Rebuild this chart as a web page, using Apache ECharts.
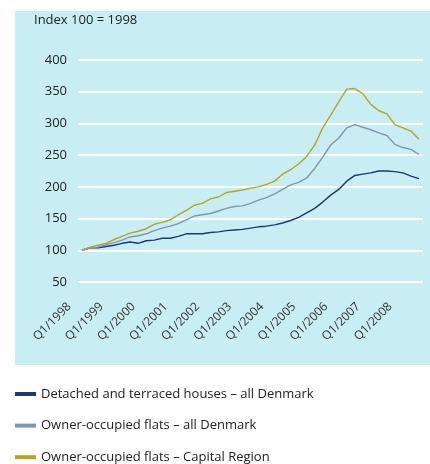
<!DOCTYPE html>
<html>
<head>
<meta charset="utf-8">
<script src="https://cdn.jsdelivr.net/npm/echarts@6/dist/echarts.min.js"></script>
<style>
  html, body { margin: 0; padding: 0; background: #fff; }
  #chart { width: 430px; height: 464px; }
</style>
</head>
<body>
<div id="chart"></div>
<script>
// quarters Q1/1998 .. Q3/2008
const quarters = []
for (let y = 1998; y <= 2008; y++) {
  for (let q = 1; q <= 4; q++) {
    if (y === 2008 && q > 3) break
    quarters.push('Q' + q + '/' + y)
  }
}

const seriesNames = [
  'Detached and terraced houses \u2013 all Denmark',
  'Owner-occupied flats \u2013 all Denmark',
  'Owner-occupied flats \u2013 Capital Region'
]

// index 100 = 1998
const houses = [100, 104, 104, 106, 108, 111, 113, 111, 115, 116, 119, 119, 122, 126, 126,
  126, 128, 129, 131, 132, 133, 135, 137, 138, 140, 143, 147, 152, 159, 166,
  176, 187, 196, 209, 218, 220, 222, 225, 225, 224, 222, 217, 213]
const flatsDk = [100, 104, 105, 109, 112, 116, 121, 123, 126, 131, 135, 138, 142, 148, 154,
  156, 158, 162, 166, 169, 170, 174, 179, 183, 189, 196, 203, 207, 214, 229,
  247, 266, 277, 293, 298, 294, 290, 285, 281, 267, 262, 259, 251]
const flatsCap = [100, 105, 108, 111, 117, 122, 127, 130, 134, 141, 144, 148, 156, 163, 171,
  174, 181, 184, 191, 193, 195, 198, 200, 204, 209, 220, 227, 236, 248, 266,
  293, 313, 334, 354, 355, 347, 330, 320, 315, 298, 293, 288, 275]

const colors = ['#1d3777', '#8196ab', '#b1a62a']
const font = 'Open Sans'

const myChart = echarts.init(document.getElementById('chart'))
myChart.setOption({
  animation: false,
  textStyle: { fontFamily: font },
  color: colors,
  graphic: [
    {
      // light blue panel behind the plot
      type: 'rect',
      z: -100,
      silent: true,
      shape: { x: 15, y: 11, width: 415, height: 354 },
      style: { fill: '#c8eef3' }
    },
    {
      type: 'text',
      left: 34,
      top: 14,
      style: { text: 'Index 100 = 1998', fontSize: 13, fontFamily: font, fill: '#222' }
    }
  ],
  grid: { left: 78, right: 7, top: 60, bottom: 182 },
  legend: {
    orient: 'vertical',
    left: 10,
    top: 381,
    height: 100,
    icon: 'rect',
    itemWidth: 21,
    itemHeight: 4,
    itemGap: 15.6,
    textStyle: { fontSize: 13, color: '#222', lineHeight: 16, fontFamily: font },
    data: seriesNames
  },
  xAxis: {
    type: 'category',
    data: quarters,
    boundaryGap: true,
    axisLine: { show: false },
    axisTick: { show: false },
    axisLabel: {
      interval: 3,
      rotate: 45,
      margin: 10,
      padding: [0, 18, 0, 0],
      fontSize: 12,
      color: '#333'
    }
  },
  yAxis: {
    type: 'value',
    min: 50,
    max: 400,
    interval: 50,
    axisLine: { show: false },
    axisTick: { show: false },
    axisLabel: { margin: 11, fontSize: 13, color: '#222' },
    splitLine: { lineStyle: { color: '#fff', width: 2 } }
  },
  series: [
    { name: seriesNames[0], type: 'line', data: houses, showSymbol: false, lineStyle: { width: 1.4 } },
    { name: seriesNames[1], type: 'line', data: flatsDk, showSymbol: false, lineStyle: { width: 1.4 } },
    { name: seriesNames[2], type: 'line', data: flatsCap, showSymbol: false, lineStyle: { width: 1.4 } }
  ]
})
</script>
</body>
</html>
